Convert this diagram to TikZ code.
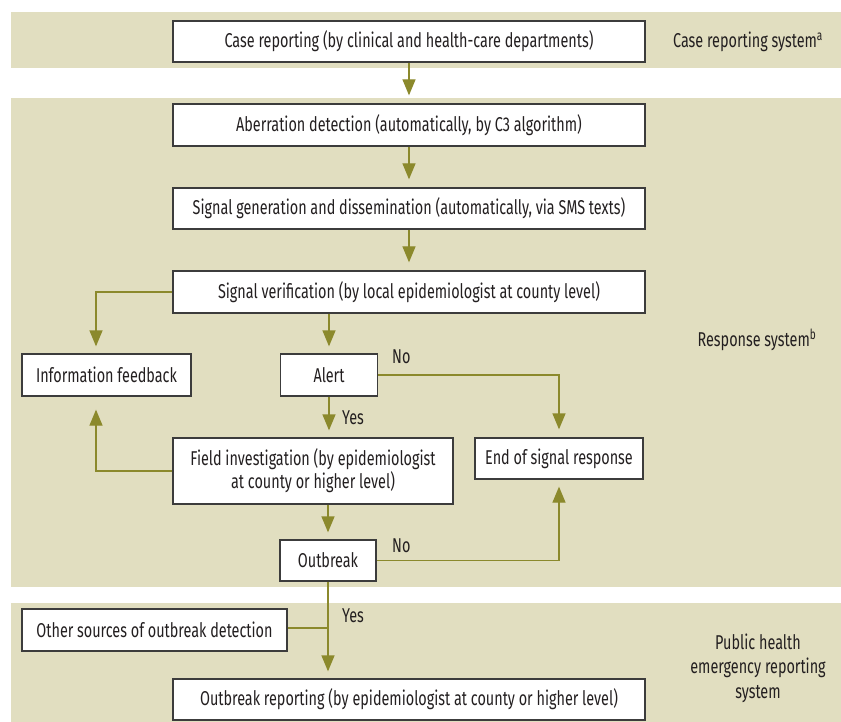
\documentclass[tikz,border=0pt]{standalone}
\usepackage{fontspec}
\setmainfont{Fira Sans}[FakeStretch=0.72]
\usetikzlibrary{arrows.meta}
\definecolor{band}{RGB}{225,222,192}
\definecolor{olive}{RGB}{139,137,44}
\definecolor{boxline}{RGB}{60,60,60}
\definecolor{txt}{RGB}{35,31,32}
\begin{document}
\begin{tikzpicture}[x=1pt,y=-1pt,
  box/.style={draw=boxline,fill=white,line width=1.3pt,inner sep=0pt,align=center,text=txt,font=\fontsize{20}{23}\selectfont},
  conn/.style={draw=olive,line width=1.3pt},
  arr/.style={conn,-{Triangle[length=16pt,width=13pt]}},
  lbl/.style={font=\fontsize{20}{24.5}\selectfont,inner sep=0pt,text=txt,align=center}]
\useasboundingbox (0,0) rectangle (841,722);
% bands
\fill[band] (11,12) rectangle (841,68);
\fill[band] (11,98) rectangle (841,587);
\fill[band] (11,603) rectangle (841,722);
% boxes
\node[box,minimum width=472pt,minimum height=41pt] (b1) at (409,41.5) {Case reporting (by clinical and health-care departments)};
\node[box,minimum width=472pt,minimum height=42pt] (b2) at (409,125) {Aberration detection (automatically, by C3 algorithm)};
\node[box,minimum width=472pt,minimum height=41pt] (b3) at (409,208.5) {Signal generation and dissemination (automatically, via SMS texts)};
\node[box,minimum width=472pt,minimum height=42pt] (b4) at (409,292) {Signal verification (by local epidemiologist at county level)};
\node[box,minimum width=169pt,minimum height=42pt] (info) at (106.5,375) {Information feedback};
\node[box,minimum width=97pt,minimum height=42pt] (al) at (329,375) {Alert};
\node[box,minimum width=280pt,minimum height=66pt] (fi) at (313,471) {Field investigation (by epidemiologist\\at county or higher level)};
\node[box,minimum width=168pt,minimum height=41pt] (end) at (559,458.5) {End of signal response};
\node[box,minimum width=96pt,minimum height=41pt] (ob) at (328,560.5) {Outbreak};
\node[box,minimum width=265pt,minimum height=42pt] (oth) at (154.5,630) {Other sources of outbreak detection};
\node[box,minimum width=472pt,minimum height=41pt] (orp) at (409,699.5) {Outbreak reporting (by epidemiologist at county or higher level)};
% side labels
\node[lbl] (l1) at (748,42) {Case reporting system\textsuperscript{a}};
\node[lbl] (l2) at (757,340) {Response system\textsuperscript{b}};
\node[lbl] (l3) at (758,668) {Public health\\emergency reporting\\system};
% connector labels
\node[lbl,anchor=west] (no1) at (392,357) {No};
\node[lbl,anchor=west] (yes1) at (342,418) {Yes};
\node[lbl,anchor=west] (no2) at (392,546) {No};
\node[lbl,anchor=west] (yes2) at (342,616) {Yes};
% connectors
\draw[arr,shorten >=8pt] (b1.south) -- (b2.north);
\draw[arr,shorten >=8pt] (b2.south) -- (b3.north);
\draw[arr,shorten >=8pt] (b3.south) -- (b4.north);
\draw[arr,shorten >=7pt] (b4.south -| al.north) -- (al.north);
\draw[arr,shorten >=7pt] (b4.west) -| ([xshift=-10.5pt]info.north);
\draw[arr,shorten >=13pt] (fi.west) -| ([xshift=-10.5pt]info.south);
\draw[arr,shorten >=7pt] (al.south) -- (fi.north -| al.south);
\draw[arr,shorten >=8pt] (al.east) -| (end.north);
\draw[arr,shorten >=7pt] (fi.south -| ob.north) -- (ob.north);
\draw[arr,shorten >=7pt] (ob.east) -| (end.south);
\draw[arr,shorten >=7pt] (ob.south) -- (orp.north -| ob.south);
\draw[conn] ([yshift=2pt]oth.east) -- ([yshift=2pt]oth.east -| ob.south);
\end{tikzpicture}
\end{document}
